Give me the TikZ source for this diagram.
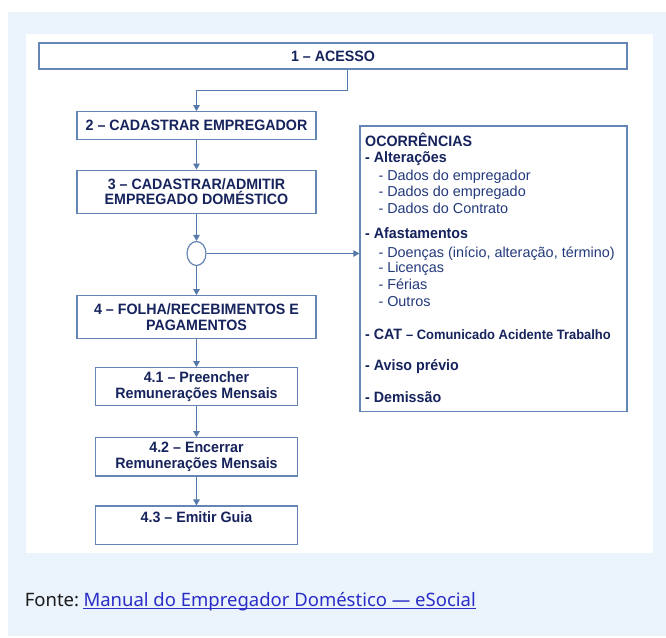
\documentclass[tikz,border=0pt]{standalone}
\usepackage{fontspec}
\setmainfont{Liberation Sans}
\newfontfamily\titlefont{Liberation Sans}[FakeStretch=0.95]
\newfontfamily\notosans{Noto Sans}
\usetikzlibrary{arrows.meta,shapes.geometric}
\definecolor{panelc}{HTML}{EBF4FC}
\definecolor{boxc}{HTML}{6586B4}
\definecolor{arrc}{HTML}{5579A8}
\definecolor{titc}{HTML}{16235C}
\definecolor{itemc}{HTML}{22397C}
\definecolor{linkc}{HTML}{2A2DC8}
\definecolor{fontec}{HTML}{1A1A1A}
\begin{document}
\begin{tikzpicture}[x=1pt,y=-1pt,
  box/.style={draw=boxc, line width=1.2pt, fill=white, inner sep=0pt,
    font=\titlefont\bfseries\fontsize{15}{16}\selectfont, text=titc, align=center},
  arr/.style={draw=arrc, line width=1pt, -{Triangle[width=6.5pt,length=6pt]}},
  item/.style={anchor=base west, inner sep=0pt, text=itemc, font=\fontsize{14.4}{16}\selectfont},
  head/.style={anchor=base west, inner sep=0pt, text=titc, font=\titlefont\bfseries\fontsize{15}{16}\selectfont}]
\useasboundingbox (0,0) rectangle (666,637);
\fill[panelc] (8,12) rectangle (666,636);
\fill[white] (26,34.3) rectangle (652.7,552.7);

% flow boxes
\node[box, minimum width=588, minimum height=26] (acesso) at (333,56) {1 – ACESSO};
\node[box, minimum width=239, minimum height=27.5] (b2) at (196.5,125.5) {2 – CADASTRAR EMPREGADOR};
\node[box, minimum width=239, minimum height=43, font=\titlefont\bfseries\fontsize{15}{15}\selectfont] (b3) at (196.5,191.7) {3 – CADASTRAR/ADMITIR\\EMPREGADO DOMÉSTICO};
\node[draw=boxc, line width=1.2pt, fill=white, ellipse, minimum width=19, minimum height=24, inner sep=0pt] (circ) at (196.5,253.5) {};
\node[box, minimum width=239, minimum height=42.6] (b4) at (196.5,317) {4 – FOLHA/RECEBIMENTOS E\\PAGAMENTOS};
\node[box, minimum width=202, minimum height=38] (b41) at (196.5,386.7) {4.1 – Preencher\\Remunerações Mensais};
\node[box, minimum width=202, minimum height=38.3] (b42) at (196.5,456.9) {4.2 – Encerrar\\Remunerações Mensais};
\node[box, minimum width=202, minimum height=38.3] (b43) at (196.5,525.2) {};
\node[head, anchor=base] (b43t) at (196.5,522.7) {4.3 – Emitir Guia};

% occurrences box
\node[draw=boxc, line width=1.2pt, fill=white, minimum width=267, minimum height=285.7, inner sep=0pt] (occ) at (493.5,268.9) {};
\node[head] (o1) at (365,146.7) {OCORRÊNCIAS};
\node[head] (o2) at (365,162.7) {- Alterações};
\node[item] (o3) at (378.3,180.7) {- Dados do empregador};
\node[item] (o4) at (378.3,196.9) {- Dados do empregado};
\node[item] (o5) at (378.3,213.3) {- Dados do Contrato};
\node[head] (o6) at (365,238.3) {- Afastamentos};
\node[item] (o7) at (378.3,257.3) {- Doenças (início, alteração, término)};
\node[item] (o8) at (378.3,272.9) {- Licenças};
\node[item] (o9) at (378.3,289) {- Férias};
\node[item] (o10) at (378.3,306) {- Outros};
\node[head] (o11) at (365,339) {- CAT {\fontsize{13.6}{15}\selectfont – Comunicado Acidente Trabalho}};
\node[head] (o12) at (365,370.7) {- Aviso prévio};
\node[head] (o13) at (365,402.7) {- Demissão};

% connectors
\draw[arr] ([xshift=14pt]acesso.south) -- ++(0,21) -| (b2.north);
\draw[arr] (b2) -- (b3);
\draw[arr] (b3) -- (circ);
\draw[arr] (circ) -- (b4);
\draw[arr] (circ.east) -- (circ.east -| occ.west);
\draw[arr] (b4) -- (b41);
\draw[arr] (b41) -- (b42);
\draw[arr] (b42) -- (b43);

% source line
\node[anchor=base west, inner sep=0pt, font=\notosans\fontsize{18.5}{20}\selectfont, text=fontec] (fonte) at (24.6,606.5) {Fonte:};
\node[anchor=base west, inner sep=0pt, font=\notosans\fontsize{18.5}{20}\selectfont, text=linkc] (link) at (83.3,606.5) {Manual do Empregador Doméstico — eSocial};
\draw[linkc, line width=1pt] ([yshift=-2pt]link.base west) -- ([yshift=-2pt]link.base east);
\end{tikzpicture}
\end{document}
